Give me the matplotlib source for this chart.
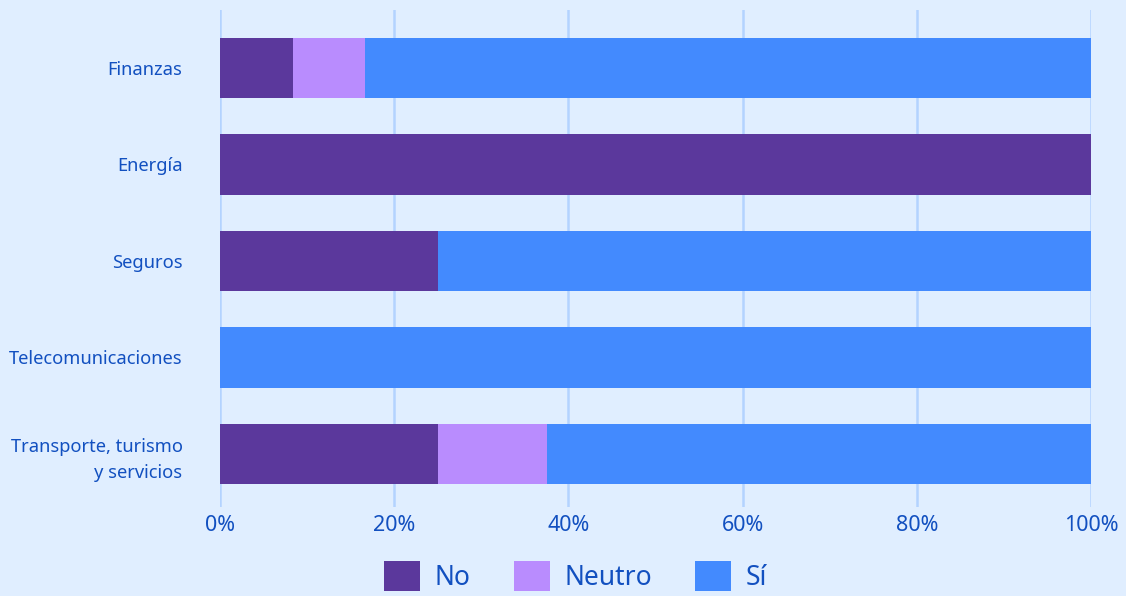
import numpy as np
import matplotlib.pyplot as plt
from matplotlib.ticker import PercentFormatter

plt.rcParams['font.family'] = ['Noto Sans', 'DejaVu Sans']

sectors = ["Finanzas", "Energía", "Seguros", "Telecomunicaciones",
           "Transporte, turismo\ny servicios"]
no_vals = [8.33, 100.0, 25.0, 0.0, 25.0]
neutro_vals = [8.33, 0.0, 0.0, 0.0, 12.5]
si_vals = [83.34, 0.0, 75.0, 100.0, 62.5]

bg = '#e0eeff'
text_col = '#1250c0'
colors = {'No': '#5b389c', 'Neutro': '#b98cfe', 'Sí': '#438afe'}

fig = plt.figure(figsize=(11.26, 5.96), dpi=100, facecolor=bg)
ax = fig.add_axes([0.1954, 0.1493, 0.7735, 0.8339], facecolor=bg)

y = np.arange(len(sectors))
h = 0.63
left = np.zeros(len(sectors))
for name, vals in [('No', no_vals), ('Neutro', neutro_vals), ('Sí', si_vals)]:
    ax.barh(y, vals, left=left, height=h, color=colors[name], label=name,
            zorder=3)
    left = left + np.array(vals)

ax.set_xlim(0, 100)
ax.set_ylim(4.55, -0.6)
ax.set_xticks(np.arange(0, 101, 20))
ax.xaxis.set_major_formatter(PercentFormatter(decimals=0))
ax.set_yticks(y)
ax.set_yticklabels(sectors, ha='right', multialignment='right',
                   linespacing=1.55)

ax.grid(axis='x', color='#b3d3ff', linewidth=1.8, zorder=0)
ax.grid(axis='y', visible=False)
for s in ax.spines.values():
    s.set_visible(False)
ax.tick_params(axis='x', length=0, pad=6, labelsize=15.5, labelcolor=text_col)
ax.tick_params(axis='y', length=0, pad=27, labelsize=13.2, labelcolor=text_col)

leg = fig.legend(loc='upper center', bbox_to_anchor=(0.511, 1 - 561 / 596),
                 ncol=3, frameon=False, fontsize=19, handlelength=1.36,
                 handleheight=1.36, handletextpad=0.55, columnspacing=1.65,
                 borderpad=0, borderaxespad=0)
for t in leg.get_texts():
    t.set_color(text_col)

fig.savefig('out.png', dpi=100, facecolor=bg)
